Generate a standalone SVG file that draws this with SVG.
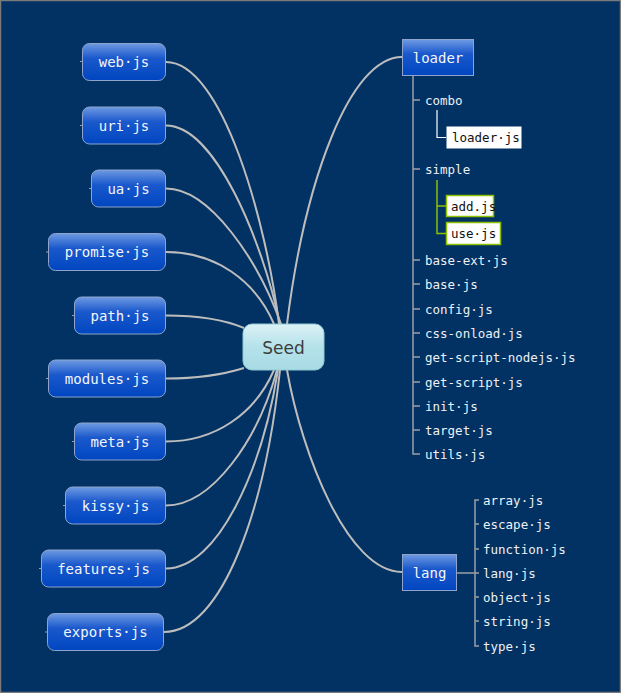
<svg xmlns="http://www.w3.org/2000/svg" width="621" height="693" viewBox="0 0 621 693">
<defs>
<linearGradient id="gBlue" x1="0" y1="0" x2="0" y2="1">
<stop offset="0" stop-color="#6e9ae2"/>
<stop offset="0.4" stop-color="#1a58cc"/>
<stop offset="1" stop-color="#0046c0"/>
</linearGradient>
<linearGradient id="gSeed" x1="0" y1="0" x2="0" y2="1">
<stop offset="0" stop-color="#ddf2f6"/>
<stop offset="0.5" stop-color="#b4e2ea"/>
<stop offset="1" stop-color="#a8dbe4"/>
</linearGradient>
<style>
.bn{fill:url(#gBlue);stroke:#8ea4cc;stroke-width:1}
.bt{font-family:"DejaVu Sans Mono",monospace;font-size:14px;fill:#f4f6fa;text-anchor:middle;dominant-baseline:central}
.tt{font-family:"DejaVu Sans Mono",monospace;font-size:12.5px;fill:#eef0f4;dominant-baseline:central}
.wt{font-family:"DejaVu Sans Mono",monospace;font-size:12.5px;fill:#111;dominant-baseline:central}
.con{fill:none;stroke:#bdbdbd;stroke-width:2}
.tk{fill:none;stroke:#9a9ea6;stroke-width:1.5}
.st{fill:none;stroke:#9a9ea6;stroke-width:1}
</style>
</defs>
<rect x="0" y="0" width="621" height="693" fill="#013263"/>
<rect x="0.5" y="0.5" width="620" height="692" fill="none" stroke="#7a7a7a" stroke-width="1.5"/>

<g id="connectors">
<path class="con" d="M166,62 C222,62 266,220 279,324"/>
<path class="con" d="M166,125.5 C215,125.5 262,240 280,324"/>
<path class="con" d="M166,188.5 C210,188.5 258,260 281,324"/>
<path class="con" d="M166,252 C215,252 255,280 274,324"/>
<path class="con" d="M166,315.5 C200,315.5 225,320 244,328"/>
<path class="con" d="M166,378.5 C200,378.5 225,374 244,368"/>
<path class="con" d="M166,441.5 C215,441.5 255,414 274,370"/>
<path class="con" d="M166,505.5 C212,505.5 258,440 277,370"/>
<path class="con" d="M166,568.5 C218,568.5 262,470 278,370"/>
<path class="con" d="M164,632 C222,632 265,510 280,370"/>
<path class="con" d="M287,324 C305,180 350,57 402,57"/>
<path class="con" d="M287,370 C302,455 348,572 402,572"/>
<path class="st" d="M80,61.5H82 M80,125.5H82 M89,188.5H91 M46,252H48 M72,315.5H74 M46,378.5H48 M72,441.5H74 M63,505.5H65 M39,568.5H41 M45,632H47"/>
<!-- loader tree -->
<path class="tk" d="M413,75V454H420 M413,100H420 M413,169H420 M413,260H420 M413,284H420 M413,309H420 M413,333H420 M413,357H420 M413,382H420 M413,406H420 M413,430H420"/>
<path fill="none" stroke="#ffffff" stroke-width="1.2" d="M437,110V137.5H446"/>
<path fill="none" stroke="#8cc000" stroke-width="1.5" d="M437,180V233.5H446 M437,206H446"/>
<!-- lang tree -->
<path class="tk" d="M457,573H475 M479,500H475V646H479 M475,524H479 M475,549H479 M475,573H479 M475,597H479 M475,621H479"/>
</g>

<g id="seed">
<rect x="243" y="324" width="81" height="46" rx="9" fill="url(#gSeed)" stroke="#8fc8d4" stroke-width="1"/>
<text x="283.5" y="347.5" font-family="DejaVu Sans, sans-serif" font-size="17" fill="#3c3c3c" text-anchor="middle" dominant-baseline="central">Seed</text>
</g>

<g id="web"><rect class="bn" x="82.5" y="43.5" width="83" height="37" rx="7"/><text class="bt" x="124" y="62">web·js</text></g>
<g id="uri"><rect class="bn" x="82.5" y="107" width="83" height="37" rx="7"/><text class="bt" x="124" y="125.5">uri·js</text></g>
<g id="ua"><rect class="bn" x="91.5" y="170" width="74" height="37" rx="7"/><text class="bt" x="128.5" y="188.5">ua·js</text></g>
<g id="promise"><rect class="bn" x="48.5" y="233.5" width="117" height="37" rx="7"/><text class="bt" x="107" y="252">promise·js</text></g>
<g id="path"><rect class="bn" x="74.5" y="297" width="91" height="37" rx="7"/><text class="bt" x="120" y="315.5">path·js</text></g>
<g id="modules"><rect class="bn" x="48.5" y="360" width="117" height="37" rx="7"/><text class="bt" x="107" y="378.5">modules·js</text></g>
<g id="meta"><rect class="bn" x="74.5" y="423" width="91" height="37" rx="7"/><text class="bt" x="120" y="441.5">meta·js</text></g>
<g id="kissy"><rect class="bn" x="65.5" y="487" width="100" height="37" rx="7"/><text class="bt" x="115.5" y="505.5">kissy·js</text></g>
<g id="features"><rect class="bn" x="41.5" y="550" width="124" height="37" rx="7"/><text class="bt" x="103.5" y="568.5">features·js</text></g>
<g id="exports"><rect class="bn" x="47.5" y="613.5" width="116" height="37" rx="7"/><text class="bt" x="105.5" y="632">exports·js</text></g>

<g id="loader"><rect class="bn" x="402.5" y="39.5" width="71" height="36"/><text class="bt" x="438" y="57.5">loader</text></g>
<g id="lang"><rect class="bn" x="402.5" y="554.5" width="54" height="36"/><text class="bt" x="429.5" y="572.5">lang</text></g>

<g id="loader-items">
<text class="tt" x="425" y="100">combo</text>
<text class="tt" x="425" y="169">simple</text>
<text class="tt" x="425" y="260">base-ext·js</text>
<text class="tt" x="425" y="284">base·js</text>
<text class="tt" x="425" y="309">config·js</text>
<text class="tt" x="425" y="333">css-onload·js</text>
<text class="tt" x="425" y="357">get-script-nodejs·js</text>
<text class="tt" x="425" y="382">get-script·js</text>
<text class="tt" x="425" y="406">init·js</text>
<text class="tt" x="425" y="430">target·js</text>
<text class="tt" x="425" y="454">utils·js</text>
</g>
<g id="loader-js"><rect x="446.5" y="126.5" width="75" height="22" fill="#ffffff"/><text class="wt" x="452" y="137.5">loader·js</text></g>
<g id="add-js"><rect x="446.5" y="195.5" width="47" height="21" fill="#ffffff" stroke="#8cc000" stroke-width="1.5"/><text class="wt" x="451" y="206">add.js</text></g>
<g id="use-js"><rect x="446.5" y="222.5" width="54" height="22" fill="#ffffff" stroke="#8cc000" stroke-width="1.5"/><text class="wt" x="451" y="233.5">use·js</text></g>

<g id="lang-items">
<text class="tt" x="483" y="500">array·js</text>
<text class="tt" x="483" y="524">escape·js</text>
<text class="tt" x="483" y="549">function·js</text>
<text class="tt" x="483" y="573">lang·js</text>
<text class="tt" x="483" y="597">object·js</text>
<text class="tt" x="483" y="621">string·js</text>
<text class="tt" x="483" y="646">type·js</text>
</g>
</svg>
